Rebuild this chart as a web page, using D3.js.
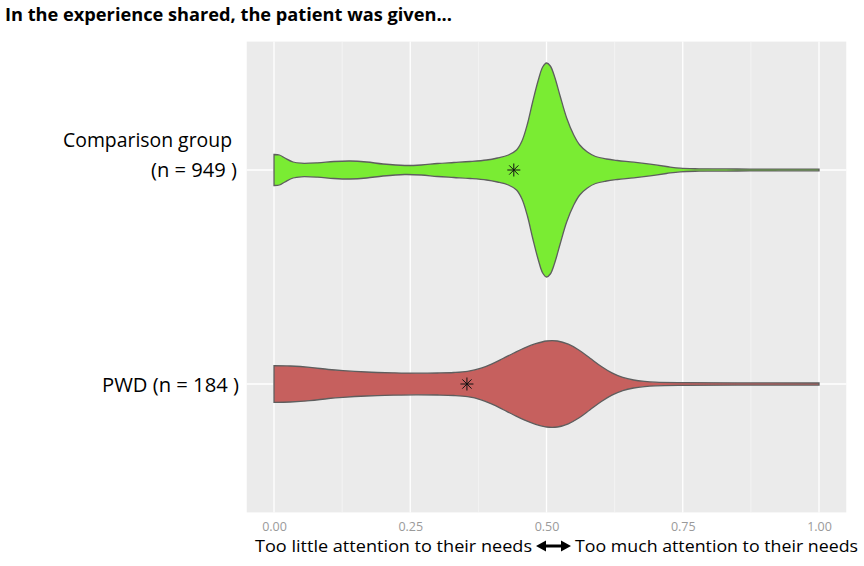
<!DOCTYPE html>
<html>
<head>
<meta charset="utf-8">
<script src="https://cdn.jsdelivr.net/npm/d3@7"></script>
<style>
  body { margin: 0; background: #fff; }
  text { font-family: "Open Sans", "Liberation Sans", sans-serif; }
</style>
</head>
<body>
<script>
// groups, top to bottom
var groups = ["Comparison group", "PWD"];
var groupLabels = [["Comparison group", "(n = 949 )"], ["PWD (n = 184 )"]];
var fills = ["#7aec33", "#c6605e"];

// estimated violin densities
var compX = [0, 0.01, 0.02, 0.035, 0.05, 0.08, 0.11, 0.14, 0.17, 0.2, 0.24, 0.27, 0.3, 0.33, 0.36, 0.39,
  0.41, 0.43, 0.445, 0.455, 0.465, 0.475, 0.485, 0.493, 0.5, 0.507, 0.515, 0.525, 0.537, 0.55,
  0.561, 0.575, 0.59, 0.61, 0.63, 0.66, 0.69, 0.72, 0.745, 0.78, 0.85, 0.92, 1];
var compDensity = [1.55, 1.5, 1.2, 0.8, 0.68, 0.72, 0.85, 0.9, 0.8, 0.6, 0.45, 0.5, 0.65, 0.75, 0.85, 1.0,
  1.2, 1.5, 2.0, 2.9, 4.6, 6.9, 9.0, 10.3, 10.7, 10.4, 9.3, 7.4, 5.2, 3.5,
  2.5, 1.8, 1.35, 1.1, 0.95, 0.78, 0.58, 0.35, 0.18, 0.12, 0.1, 0.09, 0.08];

var pwdX = [0, 0.03, 0.066, 0.1, 0.127, 0.17, 0.219, 0.26, 0.3, 0.33, 0.355, 0.38, 0.4, 0.42, 0.44,
  0.46, 0.48, 0.5, 0.52, 0.54, 0.56, 0.58, 0.6, 0.62, 0.64, 0.66, 0.68, 0.7, 0.75, 0.85, 1];
var pwdDensity = [1.83, 1.8, 1.67, 1.45, 1.33, 1.2, 1.12, 1.08, 1.1, 1.15, 1.27, 1.58, 2.02, 2.55, 3.1,
  3.62, 4.03, 4.3, 4.3, 3.98, 3.38, 2.58, 1.78, 1.12, 0.66, 0.4, 0.26, 0.18, 0.13, 0.11, 0.1];

var means = [0.44, 0.354];

var xTicks = [0, 0.25, 0.5, 0.75, 1];
var xTickLabels = ["0.00", "0.25", "0.50", "0.75", "1.00"];
var xMinor = [0.125, 0.375, 0.625, 0.875];

var w = 864, h = 566;

var svg = d3.select("body").append("svg")
  .attr("width", w)
  .attr("height", h);

var x = d3.scaleLinear().domain([0, 1]).range([274, 819]);
var y = d3.scalePoint().domain(groups).range([170, 384]);
var step = y(groups[1]) - y(groups[0]);
var panelTop = y(groups[0]) - 0.6 * step;
var panelBottom = y(groups[1]) + 0.6 * step;

// violin half width
var wScale = d3.scaleLinear().domain([0, 10.7]).range([0, 107]);

// panel
svg.append("rect")
  .attr("x", x(-0.05))
  .attr("y", panelTop)
  .attr("width", x(1.05) - x(-0.05))
  .attr("height", panelBottom - panelTop)
  .attr("fill", "#ebebeb");

svg.selectAll(".minor")
  .data(xMinor).enter().append("line")
  .attr("x1", d => x(d)).attr("x2", d => x(d))
  .attr("y1", panelTop).attr("y2", panelBottom)
  .attr("stroke", "#f6f6f6").attr("stroke-width", 0.7);

svg.selectAll(".major")
  .data(xTicks).enter().append("line")
  .attr("x1", d => x(d)).attr("x2", d => x(d))
  .attr("y1", panelTop).attr("y2", panelBottom)
  .attr("stroke", "#fff").attr("stroke-width", 1.3);

svg.selectAll(".hgrid")
  .data(groups).enter().append("line")
  .attr("x1", x(-0.05)).attr("x2", x(1.05))
  .attr("y1", d => y(d)).attr("y2", d => y(d))
  .attr("stroke", "#fff").attr("stroke-width", 1.3);

// violins
var series = [d3.zip(compX, compDensity), d3.zip(pwdX, pwdDensity)];

series.forEach(function(pts, i) {
  var cy = y(groups[i]);
  var area = d3.area()
    .x(d => x(d[0]))
    .y0(d => cy - wScale(d[1]))
    .y1(d => cy + wScale(d[1]))
    .curve(d3.curveCatmullRom.alpha(0.5));
  svg.append("path")
    .datum(pts)
    .attr("d", area)
    .attr("fill", fills[i])
    .attr("stroke", "#5e5e5e")
    .attr("stroke-width", 1.3);
});

// mean markers (8 spoke star)
var r = 6.5, r2 = r * Math.SQRT1_2;
var star = "M0," + (-r) + "V" + r + "M" + (-r) + ",0H" + r +
  "M" + (-r2) + "," + (-r2) + "L" + r2 + "," + r2 +
  "M" + (-r2) + "," + r2 + "L" + r2 + "," + (-r2);
svg.selectAll(".mean")
  .data(means).enter().append("path")
  .attr("transform", (d, i) => "translate(" + x(d) + "," + y(groups[i]) + ")")
  .attr("d", star)
  .attr("stroke", "#111")
  .attr("stroke-width", 1)
  .attr("fill", "none");

// x axis
var xAxis = d3.axisBottom(x)
  .tickValues(xTicks)
  .tickFormat((d, i) => xTickLabels[i])
  .tickSize(0)
  .tickPadding(10);

var gx = svg.append("g")
  .attr("transform", "translate(0," + panelBottom + ")")
  .call(xAxis);
gx.select(".domain").remove();
gx.selectAll("text")
  .attr("font-family", "Liberation Sans, Arial, sans-serif")
  .attr("font-size", 12.5)
  .attr("fill", "#9a9a9a");

// group labels
svg.append("text").attr("x", 232).attr("y", 147)
  .attr("text-anchor", "end").attr("font-size", 19.5)
  .attr("textLength", 169).attr("lengthAdjust", "spacingAndGlyphs")
  .text(groupLabels[0][0]);
svg.append("text").attr("x", 237).attr("y", 177)
  .attr("text-anchor", "end").attr("font-size", 19.5)
  .attr("textLength", 86).attr("lengthAdjust", "spacingAndGlyphs")
  .text(groupLabels[0][1]);
svg.append("text").attr("x", 239).attr("y", 392)
  .attr("text-anchor", "end").attr("font-size", 19.5)
  .attr("textLength", 137).attr("lengthAdjust", "spacingAndGlyphs")
  .text(groupLabels[1][0]);

// title
svg.append("text").attr("x", 5).attr("y", 21)
  .attr("font-size", 18.5).attr("font-weight", "bold")
  .attr("textLength", 447).attr("lengthAdjust", "spacingAndGlyphs")
  .text("In the experience shared, the patient was given...");

// bottom axis title
svg.append("text").attr("x", 255).attr("y", 552)
  .attr("font-size", 17)
  .attr("textLength", 277).attr("lengthAdjust", "spacingAndGlyphs")
  .text("Too little attention to their needs");
svg.append("text").attr("x", 575).attr("y", 552)
  .attr("font-size", 17)
  .attr("textLength", 283).attr("lengthAdjust", "spacingAndGlyphs")
  .text("Too much attention to their needs");

// double arrow
svg.append("line")
  .attr("x1", 543).attr("x2", 564)
  .attr("y1", 546).attr("y2", 546)
  .attr("stroke", "#000").attr("stroke-width", 3);
svg.append("path")
  .attr("d", "M536,546L546,540.5L546,551.5Z M571,546L561,540.5L561,551.5Z")
  .attr("fill", "#000");
</script>
</body>
</html>
